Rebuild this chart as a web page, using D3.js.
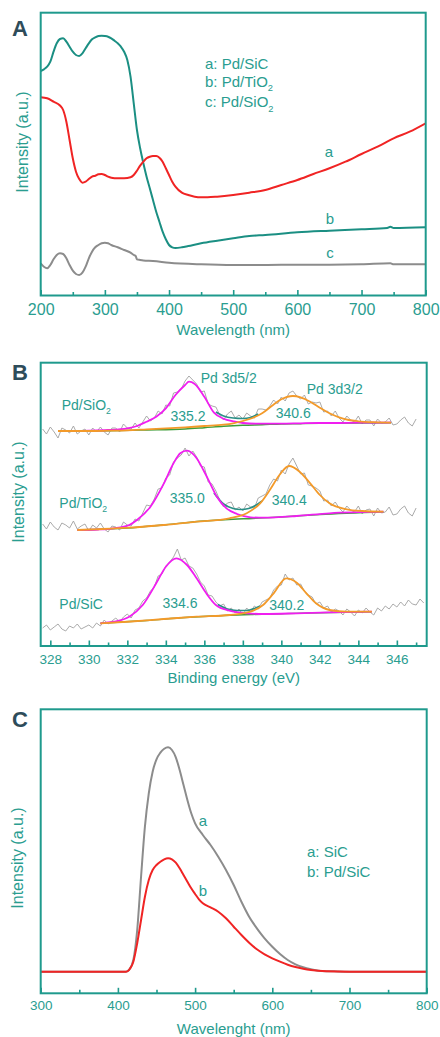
<!DOCTYPE html>
<html>
<head>
<meta charset="utf-8">
<script src="https://cdn.jsdelivr.net/npm/d3@7"></script>
<style>
  body { margin: 0; background: #fff; }
  svg { display: block; font-family: "Liberation Sans", Arial, sans-serif; }
</style>
</head>
<body>
<div id="chart"></div>
<script>
// ---------- Panel A: UV-vis (wavelength nm, intensity a.u.) ----------
const uvWlSiC = [200,210,220,230,235,240,245,250,255,260,265,270,275,280,285,290,295,300,305,310,320,330,340,345,350,355,360,365,370,375,380,385,390,395,400,405,410,420,430,440,450,460,475,500,525,550,575,600,625,650,675,700,725,750,775,800];
const uvPdSiC  = [198.2,197.2,193.8,190,185.5,173.8,155.5,137.2,123.8,116.5,112.8,113.8,116.5,118.8,119.8,121.2,121.5,120.5,118.8,117.8,117.2,117.2,118.2,120.5,124.8,129.8,133.8,137.2,138.8,139.5,139.5,137.8,133.8,127.2,120.5,113.8,108.8,102.8,100.5,98.8,98.2,98.2,98.8,100.5,102.8,105.5,110.5,115.5,121.5,127.2,133.8,141.5,148.8,157.2,163.8,172.2];

const uvWlTiO2 = [200,205,210,215,220,225,230,235,240,245,250,255,260,265,270,275,280,285,290,295,300,305,310,315,320,325,330,335,340,345,350,355,360,365,370,375,380,385,390,395,400,405,410,420,430,450,475,500,525,550,600,650,700,740,745,750,800];
const uvPdTiO2 = [224.5,226.2,228.8,233.8,243.8,252.2,256.5,257.2,253.8,248.8,243.8,240.5,239.5,242.2,247.2,252.2,256.2,258.2,259.5,259.8,259.5,258.8,257.2,254.8,252.2,248.8,243.8,235.5,218.8,192.2,165.5,147.2,132.2,118.8,107.2,95.5,83.8,73.8,63.8,56.2,50.5,48.2,47.5,48.2,49.5,52.2,54.8,57.2,59.5,60.5,63.2,64.8,66.2,67.5,68.8,67.5,68.2];

const uvWlSiO2 = [200,205,210,215,220,225,230,235,240,245,250,255,260,265,270,275,280,285,290,295,300,305,310,320,330,340,345,348,350,355,360,375,400,450,500,550,600,650,700,745,750,800];
const uvPdSiO2 = [32.2,28.8,27.2,30.5,36.2,40.5,42.2,41.5,37.2,30.5,24.8,21.5,20.5,22.8,28.8,37.2,43.8,48.2,50.5,52.2,52.8,52.2,50.5,48.2,45.5,42.8,40.5,39.5,36.2,35.5,35,34.5,32.8,31.2,30.5,30.5,30.8,30.8,31.2,32.2,31.2,31.2];

const uvTicks = [200,300,400,500,600,700,800];
const uvMinor = [250,350,450,550,650,750];

// ---------- Panel B: XPS Pd 3d (binding energy eV) ----------
const rawStart = 327.6, rawStep = 0.2;
const rawSiO2 = [217,212,219,214,208,218,216,213,220,212,215,217,211,218,214,219,214,211,218,218,214,222,218,217,223,218,224,230,225,228,235,232,241,240,253,254,257,265,270,266,262,254,255,242,240,239,231,226,232,235,228,231,227,233,230,228,237,237,236,240,246,242,249,245,253,255,250,247,251,242,244,243,244,234,235,230,235,228,224,230,226,224,230,222,226,226,220,227,223,224,228,221,222,226,229,223,220,227];
const rawTiO2 = [122,117,124,119,116,123,121,118,125,117,120,122,115,121,118,123,117,114,120,119,116,124,121,120,127,125,133,141,140,147,157,158,168,171,184,188,191,198,190,195,189,180,179,164,162,155,146,139,143,144,136,139,135,142,139,138,148,150,152,161,167,165,176,172,182,188,180,172,173,161,160,158,155,145,146,140,144,138,134,140,136,134,140,132,136,137,130,138,133,134,139,131,132,137,140,133,130,138];
const rawSiC  = [18,21,16,19,22,17,15,20,18,22,17,19,21,18,23,20,26,22,25,28,24,29,32,28,36,38,45,48,55,59,70,72,80,84,89,97,86,88,80,78,72,64,60,51,50,44,40,42,35,38,33,37,31,38,34,40,37,44,46,48,56,60,61,72,66,68,61,62,55,51,49,42,44,38,40,34,37,35,31,37,34,30,36,33,38,34,31,38,35,40,37,42,39,44,40,46,42,41,47,43];

// fitted components [binding energy, intensity]
const siO2Pd52 = [[328.4,215],[329,215],[330,215.3],[331,216],[332,217.7],[332.5,220],[333,224.3],[333.5,229.3],[334,237.7],[334.5,251],[335,261],[335.2,264.3],[335.5,262],[336,249.3],[336.5,233.3],[337,227.3],[337.5,224.7],[338,223],[339,222.3],[340,222.3],[341,222.7],[342,223],[343,223],[344,223.3],[345,223.3],[345.7,223.7]];
const siO2Pd32 = [[328.4,215],[330,215],[331,215.3],[332,215.7],[333,216.7],[334,217.7],[335,218.7],[336,220],[337,221.3],[337.5,222.7],[338,225],[338.5,228],[339,232.7],[339.5,240],[340,246.7],[340.6,250],[341,248.7],[341.5,244.3],[342,238.3],[342.5,232.7],[343,228.7],[343.5,226],[344,224.7],[345,223.7],[345.7,223.3]];
const siO2Bg   = [[328.4,215],[331,215.3],[333,216],[335,217],[336,218.3],[337,219.7],[338,220.7],[339,221.3],[340,222],[341,222.3],[342,222.7],[345.7,223.3]];
const siO2Env  = [[336.6,234],[337,230],[337.5,228],[338,227.5],[338.4,228.5],[338.8,232]];

const tiO2Pd52 = [[329.4,116],[330.5,116.5],[331.3,117.7],[332.1,121],[332.5,126],[333.2,139.3],[333.9,162.7],[334.4,182.7],[334.75,192.7],[335.1,195.3],[335.6,187.7],[335.95,176],[336.3,162.7],[336.65,149.3],[337.15,137.7],[337.7,132],[338.4,128.7],[339.1,128.3],[340.8,130],[342.5,132.7],[345.3,134.3]];
const tiO2Pd32 = [[329.4,116],[330.3,116.7],[332.1,118.3],[333.9,121],[335.6,124.3],[337.3,127.7],[338.2,132.7],[338.9,142.7],[339.4,156],[339.9,171],[340.4,180],[340.95,174.3],[341.5,162.7],[342,151],[342.5,142.7],[343.4,136.7],[344.2,135],[345.3,134.3]];
const tiO2Bg   = [[329.4,116],[332,118],[334,121.3],[336,125],[337.5,126.8],[338.5,127.5],[340,129],[342,131.5],[345.3,134.3]];
const tiO2Env  = [[336.5,153],[337,142],[337.5,137.5],[337.9,136.5],[338.3,137.5],[338.7,141],[339,145]];

const siCPd52 = [[330.6,22.7],[331.3,24.3],[332.1,29.3],[332.8,41],[333.5,62.7],[334,79.3],[334.55,87.7],[335.1,81],[335.6,67.7],[336.1,52.7],[336.6,41],[337.3,35.3],[338.2,32.7],[339.1,32],[340.8,32.7],[342.5,33.7],[344.7,34.3]];
const siCPd32 = [[330.6,22.7],[332.2,24.5],[333.9,27],[335.6,29.3],[337.3,31],[338.2,33.3],[339.05,41],[339.6,52.7],[340.25,67.7],[340.8,63.3],[341.3,52.7],[341.8,42.7],[342.5,36],[343.4,34.3],[344.7,34.3]];
const siCBg   = [[330.6,22.7],[333,25.5],[335,28.5],[337,30.5],[338.5,31.5],[340,32.3],[342,33.3],[344.7,34.3]];
const siCEnv  = [[336.7,41.5],[337.2,37],[337.7,35.5],[338.2,35.5],[338.6,37.5],[338.9,40]];

const xpsTicks = [328,330,332,334,336,338,340,342,344,346];
const xpsMinor = [329,331,333,335,337,339,341,343,345,347];

// ---------- Panel C: PL (wavelength nm) ----------
const plWlSiC = [300,410,415,420,425,430,435,440,445,450,455,460,465,470,475,480,485,490,495,500,510,520,530,540,550,560,570,580,590,600,610,620,630,640,650,660,680,700,800];
const plSiC   = [21.6,21.6,24,33.3,63.3,116.6,166.6,200,221.6,234,240.6,244.6,246,243.3,236,223.3,208.3,193.3,180,170,158.3,148.3,136.6,123.3,108.3,91.6,76.6,65,55,46.6,39.3,33.3,29,26,24,22.6,22,21.6,21.6];
const plWlPdSiC = [300,410,413,416,420,425,430,435,440,445,450,455,460,465,470,475,480,485,490,495,500,505,510,520,530,540,550,560,570,580,590,600,610,620,630,640,650,670,700,800];
const plPdSiC   = [21.6,21.6,22.3,25,31.6,50,73.3,96.6,113.3,123.3,128.3,131.6,134,135,134,130.6,125,118.3,111.6,105,99.3,94,90,86,81.6,75,66.6,58.3,50.6,44,39,35,31.6,28.6,26.3,24.6,23.3,22,21.6,21.6];

const plTicks = [300,400,500,600,700,800];
const plMinor = [350,450,550,650,750];

// ---------- styles ----------
const teal = '#2a9d90';
const frameColor = '#1f9a8d';
const letterColor = '#2e4c5a';

const svg = d3.select('#chart')
    .append('svg')
    .attr('width', 440)
    .attr('height', 1037);

// parts: plain strings, or ['2'] arrays for a subscript
function addText(x, y, size, parts, anchor) {
    const t = svg.append('text')
        .attr('x', x)
        .attr('y', y)
        .attr('fill', teal)
        .attr('text-anchor', anchor || 'start')
        .style('font-size', size + 'px');
    parts.forEach(p => {
        if (typeof p === 'string') {
            t.append('tspan').text(p);
        } else {
            t.append('tspan')
                .attr('dy', size * 0.3)
                .style('font-size', (size * 0.62) + 'px')
                .text(p[0]);
        }
    });
    return t;
}

function panel(opt) {
    const x = d3.scaleLinear().domain(opt.xDomain).range([opt.left, opt.right]);
    const y = d3.scaleLinear().domain([0, opt.yMax]).range([opt.bottom, opt.top]);
    const g = svg.append('g');

    const clipId = 'clip' + opt.name;
    svg.append('defs').append('clipPath').attr('id', clipId)
        .append('rect')
        .attr('x', opt.left).attr('y', opt.top)
        .attr('width', opt.right - opt.left).attr('height', opt.bottom - opt.top);

    // minor ticks
    g.append('g')
        .attr('transform', `translate(0,${opt.bottom})`)
        .call(d3.axisBottom(x).tickValues(opt.minor).tickSize(-3.5).tickFormat(''))
        .call(a => a.select('.domain').remove())
        .call(a => a.selectAll('line').attr('stroke', frameColor).attr('stroke-width', 1.6));

    // major ticks + labels
    g.append('g')
        .attr('transform', `translate(0,${opt.bottom})`)
        .call(d3.axisBottom(x).tickValues(opt.ticks).tickSize(-5.5).tickPadding(opt.pad).tickFormat(d3.format('d')))
        .call(a => a.select('.domain').remove())
        .call(a => a.selectAll('line').attr('stroke', frameColor).attr('stroke-width', 1.6))
        .call(a => a.selectAll('text')
            .attr('fill', teal)
            .style('font-size', opt.tickSize + 'px')
            .style('font-family', '"Liberation Sans", Arial, sans-serif'));

    const plot = svg.append('g').attr('clip-path', `url(#${clipId})`);

    // frame
    svg.append('rect')
        .attr('x', opt.left).attr('y', opt.top)
        .attr('width', opt.right - opt.left).attr('height', opt.bottom - opt.top)
        .attr('fill', 'none')
        .attr('stroke', frameColor)
        .attr('stroke-width', 2);

    // panel letter
    svg.append('text')
        .attr('x', 12).attr('y', opt.letterY)
        .attr('fill', letterColor)
        .style('font-size', '22px')
        .style('font-weight', 'bold')
        .text(opt.name);

    // axis titles
    svg.append('text')
        .attr('x', (opt.left + opt.right) / 2)
        .attr('y', opt.titleY)
        .attr('text-anchor', 'middle')
        .attr('fill', teal)
        .style('font-size', '15px')
        .text(opt.xTitle);

    svg.append('text')
        .attr('transform', `translate(${opt.yTitleX},${opt.yTitleY}) rotate(-90)`)
        .attr('text-anchor', 'middle')
        .attr('fill', teal)
        .style('font-size', '16px')
        .text('Intensity (a.u.)');

    return { x, y, plot };
}

function drawLine(p, data, color, width, curve) {
    p.plot.append('path')
        .datum(data)
        .attr('fill', 'none')
        .attr('stroke', color)
        .attr('stroke-width', width)
        .attr('stroke-linejoin', 'round')
        .attr('d', d3.line()
            .x(d => p.x(d[0]))
            .y(d => p.y(d[1]))
            .curve(curve || d3.curveMonotoneX));
}

const zip = (xs, ys) => xs.map((v, i) => [v, ys[i]]);

// ===== Panel A =====
const pA = panel({
    name: 'A', xDomain: [200, 800], left: 40.7, right: 425.7, top: 12.7, bottom: 295.5, yMax: 282.8,
    ticks: uvTicks, minor: uvMinor, pad: 8.5, tickSize: 16,
    letterY: 36, xTitle: 'Wavelength (nm)', titleY: 335, yTitleX: 28, yTitleY: 142
});
drawLine(pA, zip(uvWlSiO2, uvPdSiO2), '#8c8c8c', 2);
drawLine(pA, zip(uvWlTiO2, uvPdTiO2), '#1b8f83', 2);
drawLine(pA, zip(uvWlSiC, uvPdSiC), '#f02424', 2);

addText(205, 69, 15, ['a: Pd/SiC']);
addText(205, 86.5, 15, ['b: Pd/TiO', ['2']]);
addText(205, 107, 15, ['c: Pd/SiO', ['2']]);
addText(329, 157, 15, ['a'], 'middle');
addText(330, 224, 15, ['b'], 'middle');
addText(330, 258, 15, ['c'], 'middle');

// ===== Panel B =====
const pB = panel({
    name: 'B', xDomain: [327.5, 347.55], left: 40.7, right: 426.7, top: 362.7, bottom: 646, yMax: 283.3,
    ticks: xpsTicks, minor: xpsMinor, pad: 8.5, tickSize: 13.5,
    letterY: 380, xTitle: 'Binding energy (eV)', titleY: 683, yTitleX: 24, yTitleY: 492
});
const rawPts = vals => vals.map((v, i) => [rawStart + i * rawStep, v]);
[
    [rawSiO2, siO2Bg, siO2Env, siO2Pd32, siO2Pd52],
    [rawTiO2, tiO2Bg, tiO2Env, tiO2Pd32, tiO2Pd52],
    [rawSiC, siCBg, siCEnv, siCPd32, siCPd52]
].forEach(([raw, bg, env, p32, p52]) => {
    drawLine(pB, rawPts(raw), '#a0a0a0', 0.9, d3.curveLinear);
    drawLine(pB, bg, '#3f9e3a', 1.4);
    drawLine(pB, env, '#2a8f86', 1.7);
    drawLine(pB, p52, '#f01ef0', 1.8);
    drawLine(pB, p32, '#f39a2a', 1.8);
});

addText(61.7, 410, 14, ['Pd/SiO', ['2']]);
addText(59.3, 508, 14, ['Pd/TiO', ['2']]);
addText(59.3, 609, 14, ['Pd/SiC']);
addText(200.7, 383, 14, ['Pd 3d5/2']);
addText(306.7, 394, 14, ['Pd 3d3/2']);
addText(188, 421, 14, ['335.2'], 'middle');
addText(293.3, 418, 14, ['340.6'], 'middle');
addText(187.3, 502.7, 14, ['335.0'], 'middle');
addText(289.3, 505, 14, ['340.4'], 'middle');
addText(180, 607.7, 14, ['334.6'], 'middle');
addText(286.7, 610, 14, ['340.2'], 'middle');

// ===== Panel C =====
const pC = panel({
    name: 'C', xDomain: [300, 800], left: 40.7, right: 426.7, top: 709.3, bottom: 993.3, yMax: 284,
    ticks: plTicks, minor: plMinor, pad: 7.2, tickSize: 13.5,
    letterY: 727, xTitle: 'Wavelenght (nm)', titleY: 1034, yTitleX: 23, yTitleY: 858
});
drawLine(pC, zip(plWlSiC, plSiC), '#8c8c8c', 2);
drawLine(pC, zip(plWlPdSiC, plPdSiC), '#f02424', 2);

addText(203, 826, 15, ['a'], 'middle');
addText(203, 896, 15, ['b'], 'middle');
addText(307, 857, 15, ['a: SiC']);
addText(307, 876.7, 15, ['b: Pd/SiC']);
</script>
</body>
</html>
